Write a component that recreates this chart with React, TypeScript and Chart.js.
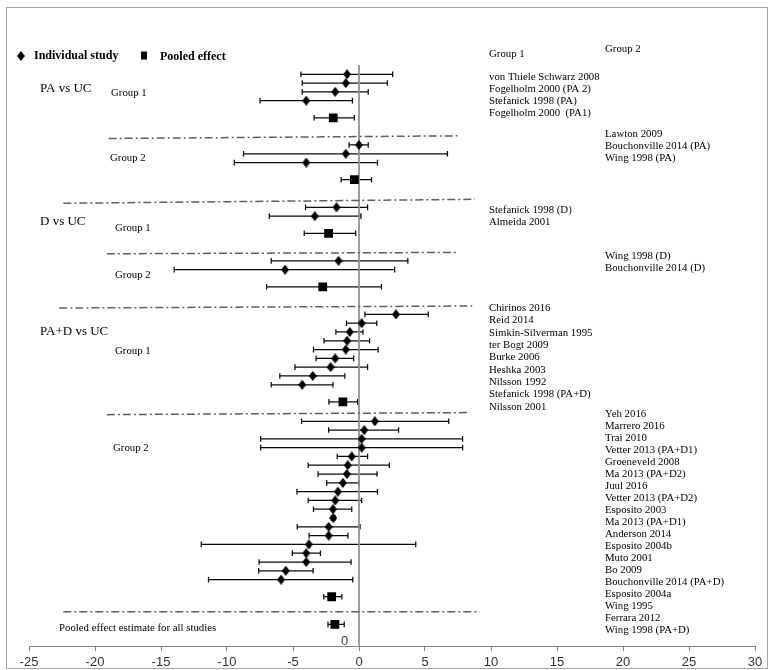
import React, { useEffect, useRef } from "react";
import { Chart, registerables } from "chart.js";

Chart.register(...registerables);

// ---------------- DATA ----------------
// PA vs UC, Group 1
const paG1Studies = ["von Thiele Schwarz 2008", "Fogelholm 2000 (PA 2)", "Stefanick 1998 (PA)", "Fogelholm 2000  (PA1)"];
const paG1Est = [-0.9, -1.0, -1.8, -4.0];
const paG1Lo = [-4.4, -4.3, -4.3, -7.5];
const paG1Hi = [2.55, 2.15, 0.7, -0.5];
const paG1Pooled = [-1.95, -3.4, -0.35];

// PA vs UC, Group 2
const paG2Studies = ["Lawton 2009", "Bouchonville 2014 (PA)", "Wing 1998 (PA)"];
const paG2Est = [0.0, -1.0, -4.0];
const paG2Lo = [-0.75, -8.75, -9.45];
const paG2Hi = [0.7, 6.7, 1.4];
const paG2Pooled = [-0.35, -1.35, 0.95];

// D vs UC, Group 1
const dG1Studies = ["Stefanick 1998 (D)", "Almeida 2001"];
const dG1Est = [-1.7, -3.35];
const dG1Lo = [-4.05, -6.8];
const dG1Hi = [0.65, 0.15];
const dG1Pooled = [-2.3, -4.15, -0.25];

// D vs UC, Group 2
const dG2Studies = ["Wing 1998 (D)", "Bouchonville 2014 (D)"];
const dG2Est = [-1.55, -5.6];
const dG2Lo = [-6.65, -14.0];
const dG2Hi = [3.7, 2.7];
const dG2Pooled = [-2.75, -7.0, 1.7];

// PA+D vs UC, Group 1
const padG1Studies = ["Chirinos 2016", "Reid 2014", "Simkin-Silverman 1995", "ter Bogt 2009", "Burke 2006", "Heshka 2003", "Nilsson 1992", "Stefanick 1998 (PA+D)", "Nilsson 2001"];
const padG1Est = [2.8, 0.2, -0.7, -0.9, -1.0, -1.8, -2.15, -3.5, -4.3];
const padG1Lo = [0.45, -0.95, -1.75, -2.65, -3.45, -3.25, -4.85, -6.0, -6.65];
const padG1Hi = [5.25, 1.35, 0.3, 0.8, 1.45, -0.4, 0.65, -1.07, -1.97];
const padG1Pooled = [-1.22, -2.28, -0.1];

// PA+D vs UC, Group 2
const padG2Studies = ["Yeh 2016", "Marrero 2016", "Trai 2010", "Vetter 2013 (PA+D1)", "Groeneveld 2008", "Ma 2013 (PA+D2)", "Juul 2016", "Vetter 2013 (PA+D2)", "Esposito 2003", "Ma 2013 (PA+D1)", "Anderson 2014", "Esposito 2004b", "Muto 2001", "Bo 2009", "Bouchonville 2014 (PA+D)", "Esposito 2004a", "Wing 1995", "Ferrara 2012", "Wing 1998 (PA+D)"];
const padG2Est = [1.2, 0.4, 0.2, 0.2, -0.55, -0.85, -0.92, -1.22, -1.6, -1.8, -1.97, -1.95, -2.3, -2.3, -3.8, -4.0, -4.0, -5.55, -5.9];
const padG2Lo = [-4.35, -2.3, -7.45, -7.45, -1.65, -3.85, -3.1, -2.45, -4.7, -3.85, -3.45, -2.1, -4.68, -3.78, -11.95, -5.05, -7.57, -7.6, -11.4];
const padG2Hi = [6.8, 3.0, 7.85, 7.85, 0.65, 2.3, 1.37, 0.0, 1.4, 0.2, -0.55, -1.8, 0.08, -0.84, 4.3, -2.92, -0.6, -3.48, -0.47];
const padG2Pooled = [-2.07, -2.67, -1.3];

// All studies pooled
const allPooled = [-1.83, -2.35, -1.12];

const xTickMin = -25;
const xTickMax = 30;
const xTickStep = 5;

// ---------------- LAYOUT (row spacing in row units) ----------------
const groups = [
  { est: paG1Est, lo: paG1Lo, hi: paG1Hi, pooled: paG1Pooled },
  { est: paG2Est, lo: paG2Lo, hi: paG2Hi, pooled: paG2Pooled },
  { est: dG1Est, lo: dG1Lo, hi: dG1Hi, pooled: dG1Pooled },
  { est: dG2Est, lo: dG2Lo, hi: dG2Hi, pooled: dG2Pooled },
  { est: padG1Est, lo: padG1Lo, hi: padG1Hi, pooled: padG1Pooled },
  { est: padG2Est, lo: padG2Lo, hi: padG2Hi, pooled: padG2Pooled },
];
const pooledGap = 1.95;
const sepGapAfterPooled = [2.2, 2.45, 2.25, 2.3, 1.33, 1.7];
const rowGapAfterSep = [0.89, 0.69, 0.88, 0.84, 0.87];
const finalPooledGap = 1.44;
const sepTilt = [0.3, 0.45, 0.15, 0.23, 0.23, 0.0];
const sepExtent = [
  [-18.96, 7.46],
  [-22.4, 8.77],
  [-19.1, 7.46],
  [-22.7, 8.58],
  [-19.1, 8.2],
  [-22.4, 9.14],
];

function buildLayout() {
  const indiv: { x: number; y: number }[] = [];
  const pooled: { x: number; y: number }[] = [];
  const bars: { lo: number; hi: number; y: number }[] = [];
  const seps: { x: number; y: number }[][] = [];
  let v = 0;
  groups.forEach((g, gi) => {
    g.est.forEach((e, i) => {
      if (i > 0) v += 1;
      indiv.push({ x: e, y: v });
      bars.push({ lo: g.lo[i], hi: g.hi[i], y: v });
    });
    v += pooledGap;
    pooled.push({ x: g.pooled[0], y: v });
    bars.push({ lo: g.pooled[1], hi: g.pooled[2], y: v });
    v += sepGapAfterPooled[gi];
    const t = sepTilt[gi] / 2;
    seps.push([
      { x: sepExtent[gi][0], y: v + t },
      { x: sepExtent[gi][1], y: v - t },
    ]);
    if (gi < groups.length - 1) v += rowGapAfterSep[gi];
  });
  v += finalPooledGap;
  pooled.push({ x: allPooled[0], y: v });
  bars.push({ lo: allPooled[1], hi: allPooled[2], y: v });
  return { indiv, pooled, bars, seps };
}

const SERIF = '"Liberation Serif", "Times New Roman", serif';
const SANS = '"Liberation Sans", Arial, sans-serif';
const LABEL_FONT = `10.8px ${SERIF}`;

const labelBlocks = [
  { names: paG1Studies, x: 489, y: 77, step: 12 },
  { names: paG2Studies, x: 605, y: 134.5, step: 12 },
  { names: dG1Studies, x: 489, y: 210, step: 12.5 },
  { names: dG2Studies, x: 605, y: 256, step: 12.5 },
  { names: padG1Studies, x: 489, y: 308, step: 12.35 },
  { names: padG2Studies, x: 605, y: 414.5, step: 12 },
];

const leftLabels = [
  { t: "PA vs UC", x: 40, y: 89, big: true },
  { t: "Group 1", x: 111, y: 93, big: false },
  { t: "Group 2", x: 110, y: 158, big: false },
  { t: "D vs UC", x: 40, y: 222, big: true },
  { t: "Group 1", x: 115, y: 228, big: false },
  { t: "Group 2", x: 115, y: 275, big: false },
  { t: "PA+D vs UC", x: 40, y: 332, big: true },
  { t: "Group 1", x: 115, y: 351, big: false },
  { t: "Group 2", x: 113, y: 448, big: false },
  { t: "Pooled effect estimate for all studies", x: 59, y: 628, big: false },
];

function makeDiamond(): HTMLCanvasElement {
  const c = document.createElement("canvas");
  c.width = 8;
  c.height = 10;
  const g = c.getContext("2d")!;
  g.fillStyle = "#000";
  g.beginPath();
  g.moveTo(4, 0);
  g.lineTo(8, 5);
  g.lineTo(4, 10);
  g.lineTo(0, 5);
  g.closePath();
  g.fill();
  return c;
}

export default function App() {
  const ref = useRef<HTMLCanvasElement | null>(null);

  useEffect(() => {
    const canvas = ref.current;
    if (!canvas) return;
    const { indiv, pooled, bars, seps } = buildLayout();

    const errorBars = {
      id: "errorBars",
      beforeDatasetsDraw(chart: any) {
        const { ctx } = chart;
        const xs = chart.scales.x;
        const ys = chart.scales.y;
        ctx.save();
        ctx.strokeStyle = "#0a0a0a";
        ctx.lineWidth = 1.25;
        bars.forEach((b) => {
          const y = ys.getPixelForValue(b.y);
          const x1 = xs.getPixelForValue(b.lo);
          const x2 = xs.getPixelForValue(b.hi);
          ctx.beginPath();
          ctx.moveTo(x1, y);
          ctx.lineTo(x2, y);
          ctx.moveTo(x1, y - 2.8);
          ctx.lineTo(x1, y + 2.8);
          ctx.moveTo(x2, y - 2.8);
          ctx.lineTo(x2, y + 2.8);
          ctx.stroke();
        });
        ctx.restore();
      },
    };

    const annotations = {
      id: "annotations",
      afterDraw(chart: any) {
        const { ctx } = chart;
        ctx.save();
        // outer frame
        ctx.strokeStyle = "#a6a6a6";
        ctx.lineWidth = 1;
        ctx.strokeRect(6.5, 7.5, 761, 661);

        const txt = (s: string, x: number, y: number, font: string, color = "#000") => {
          ctx.font = font;
          ctx.fillStyle = color;
          ctx.textAlign = "left";
          ctx.textBaseline = "middle";
          ctx.fillText(s, x, y);
        };

        // legend
        ctx.fillStyle = "#000";
        ctx.beginPath();
        ctx.moveTo(21, 51);
        ctx.lineTo(25, 56);
        ctx.lineTo(21, 61);
        ctx.lineTo(17, 56);
        ctx.closePath();
        ctx.fill();
        txt("Individual study", 34, 56, `bold 12px ${SERIF}`);
        ctx.fillStyle = "#000";
        ctx.fillRect(141, 51.5, 6, 8);
        txt("Pooled effect", 160, 57, `bold 12px ${SERIF}`);

        // column headers
        txt("Group 1", 489, 54, LABEL_FONT);
        txt("Group 2", 605, 49.5, LABEL_FONT);

        labelBlocks.forEach((b) => {
          b.names.forEach((n, i) => txt(n, b.x, b.y + i * b.step, LABEL_FONT));
        });

        leftLabels.forEach((l) => txt(l.t, l.x, l.y, l.big ? `13px ${SERIF}` : LABEL_FONT));

        // y-axis zero label
        txt("0", 341, 641, `13px ${SANS}`, "#404040");
        ctx.restore();
      },
    };

    const chart = new Chart(canvas, {
      type: "scatter",
      data: {
        datasets: [
          ...seps.map((s) => ({
            type: "line" as const,
            data: s,
            borderColor: "#5e5e5e",
            borderWidth: 1.5,
            borderDash: [8, 3, 2, 3],
            pointRadius: 0,
            fill: false,
            order: 3,
          })),
          {
            type: "line" as const,
            data: [
              { x: 0, y: -1.05 },
              { x: 0, y: 65 },
            ],
            borderColor: "#8f8f8f",
            borderWidth: 1,
            pointRadius: 0,
            fill: false,
            order: 3,
          },
          {
            label: "Individual study",
            data: indiv,
            pointStyle: makeDiamond(),
            pointRadius: 5,
            backgroundColor: "#000",
            borderColor: "#000",
            order: 1,
          },
          {
            label: "Pooled effect",
            data: pooled,
            pointStyle: "rect",
            pointRadius: 6.2,
            borderWidth: 0,
            backgroundColor: "#000",
            borderColor: "#000",
            order: 1,
          },
        ] as any,
      },
      options: {
        responsive: false,
        animation: false,
        events: [],
        layout: { padding: { left: 29, right: 16, top: 21.5, bottom: 0 } },
        plugins: { legend: { display: false }, tooltip: { enabled: false } },
        scales: {
          x: {
            type: "linear",
            min: xTickMin,
            max: xTickMax,
            ticks: {
              stepSize: xTickStep,
              color: "#333",
              font: { family: SANS, size: 13 },
              padding: 4,
            },
            grid: { drawOnChartArea: false, drawTicks: true, tickLength: 5, color: "#868686" },
            border: { display: true, color: "#868686", width: 1 },
            afterFit: (s: any) => {
              s.height = 24;
            },
          },
          y: { type: "linear", display: false, min: -6, max: 65, reverse: true },
        },
      } as any,
      plugins: [errorBars, annotations],
    });
    return () => chart.destroy();
  }, []);

  return (
    <div style={{ position: "fixed", left: 0, top: 0, width: 771, height: 670, background: "#fff" }}>
      <canvas ref={ref} width={771} height={670} style={{ display: "block" }} />
    </div>
  );
}
